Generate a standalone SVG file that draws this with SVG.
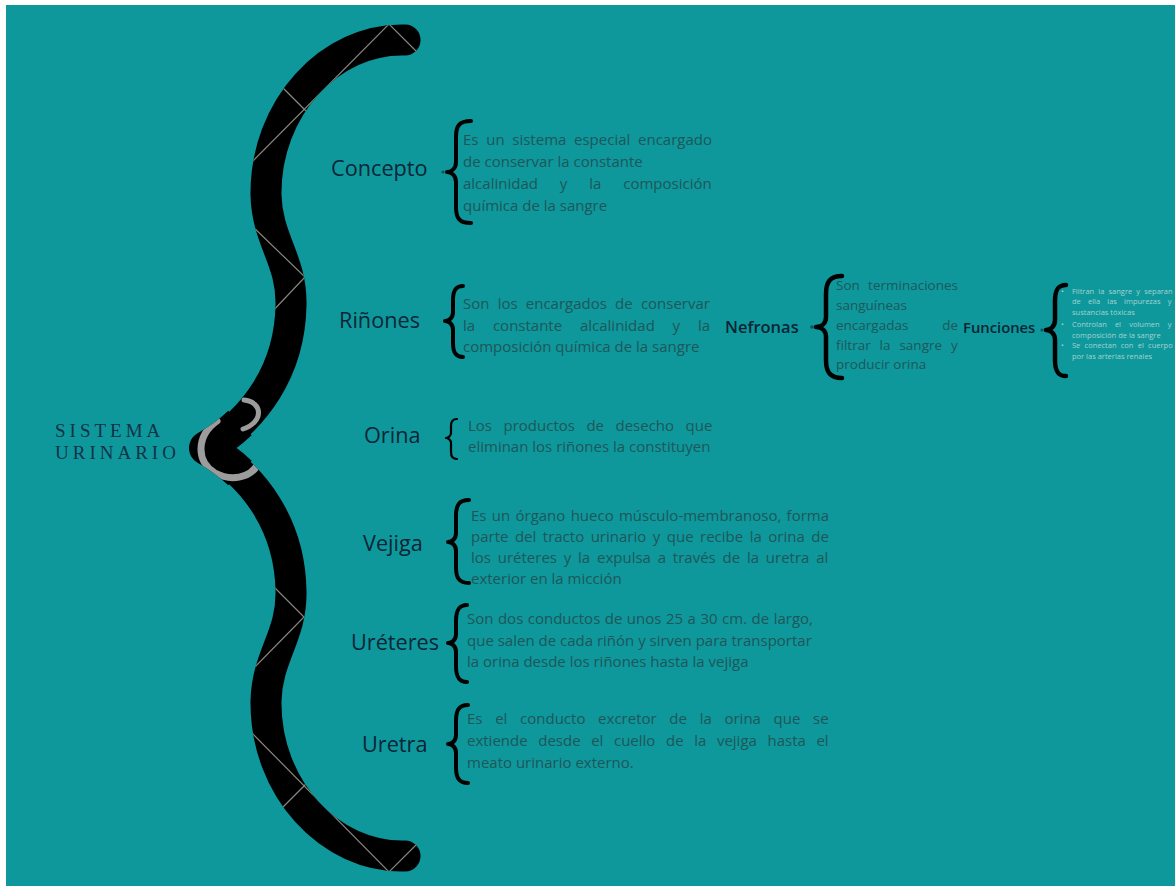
<svg xmlns="http://www.w3.org/2000/svg" width="1175" height="886" viewBox="0 0 1175 886">
<style>
.lbl{font-family:"Open Sans","Liberation Sans",sans-serif;font-size:21.7px;fill:#0a2536;}
.lbl2{font-family:"Open Sans","Liberation Sans",sans-serif;font-weight:600;fill:#0a2536;}
.desc{font-family:"Open Sans","Liberation Sans",sans-serif;font-size:15px;fill:#1f5659;}
.nef{font-family:"Open Sans","Liberation Sans",sans-serif;font-size:13.5px;fill:#1f5659;}
.fun{font-family:"Open Sans","Liberation Sans",sans-serif;font-size:7.5px;fill:#a3d2cf;}
.title{font-family:"Liberation Serif","DejaVu Serif",serif;font-size:19px;fill:#123247;letter-spacing:4px;}
.brace{fill:none;stroke:#000;stroke-width:4;stroke-linecap:round;stroke-linejoin:round;}
.fold{fill:none;stroke:#8a8580;stroke-width:1.2;}
.twist{fill:none;stroke:#9c9c9c;stroke-linecap:round;}
.big{fill:none;stroke-linecap:round;stroke-linejoin:round;}
.tip{fill:none;stroke-linecap:butt;stroke-linejoin:round;}
</style>
<defs>
<path id="bigBrace" d="M 405 40 C 330 38 265 108 266 195 C 267 240 292 260 291 305 C 290 370 255 420 206 448 C 255 476 290 526 291 591 C 292 636 267 656 266 701 C 265 788 330 858 405 856"/>
<path id="tipBrace" d="M 240 423 Q 225.2 437 206 448 Q 225.2 459 240 473"/>
<mask id="braceMask" maskUnits="userSpaceOnUse" x="0" y="0" width="1175" height="886">
<use href="#bigBrace" class="big" stroke="#fff" stroke-width="31"/>
<use href="#tipBrace" class="tip" stroke="#fff" stroke-width="34"/>
</mask>
</defs>
<rect x="0" y="0" width="1175" height="886" fill="#ffffff"/>
<rect x="6" y="5" width="1169" height="881" fill="#0e989c"/>

<g id="sistema-urinario">
<use href="#bigBrace" class="big" stroke="#000" stroke-width="31"/>
<use href="#tipBrace" class="tip" stroke="#000" stroke-width="34"/>
<g mask="url(#braceMask)">
<path class="fold" d="M 250 164 L 389 24 L 421 56"/>
<path class="fold" d="M 276 81 L 308 113"/>
<path class="fold" d="M 252 226 L 305 277 L 270 314"/>
<path class="fold" d="M 270 583 L 304 617 L 253 669"/>
<path class="fold" d="M 250 731 L 389 872 L 421 840"/>
<path class="fold" d="M 308 782 L 276 814"/>
<path class="twist" stroke-width="5" d="M 244 400 C 263 402 264 422 243 429"/>
<path class="twist" stroke-width="7" d="M 217 421 C 196 436 196 462 215 473 C 230 481 250 479 258 464"/>
</g>
<text class="title" x="55" y="437">SISTEMA</text>
<text class="title" x="55" y="459">URINARIO</text>
</g>

<g id="connectors">
<path class="brace" d="M 471 121 C 459 121 456 126 456 137 L 456 162 C 456 169 451 172 447 172 C 451 172 456 175 456 182 L 456 207 C 456 218 459 223 471 223"/>
<path class="brace" d="M 463 286 C 456 286 453 290 453 300 L 453 312 C 453 318 449 321 445 321 C 449 321 453 324 453 330 L 453 343 C 453 353 456 357 463 357"/>
<path class="brace" style="stroke-width:2.2" d="M 457 419 C 453 419 451 421 451 426 L 451 433 C 451 436 448 438 446 438 C 448 438 451 440 451 443 L 451 452 C 451 457 453 459 457 459"/>
<path class="brace" d="M 469 500 C 459 500 456 505 456 516 L 456 533 C 456 539 452 542 448 542 C 452 542 456 545 456 551 L 456 567 C 456 578 459 583 469 583"/>
<path class="brace" d="M 467 605 C 459 605 456 610 456 621 L 456 634 C 456 640 452 643 448 643 C 452 643 456 646 456 652 L 456 666 C 456 677 459 682 467 682"/>
<path class="brace" d="M 468 705 C 459 705 456 710 456 721 L 456 735 C 456 741 452 744 448 744 C 452 744 456 747 456 753 L 456 767 C 456 778 459 783 468 783"/>
<path class="brace" style="stroke-width:4.5" d="M 842 276 C 830 276 826 282 826 294 L 826 317 C 826 324 821 327 816 327 C 821 327 826 330 826 337 L 826 360 C 826 372 830 378 842 378"/>
<path class="brace" style="stroke-width:4.5" d="M 1066 285 C 1058 285 1055 290 1055 301 L 1055 320 C 1055 327 1050 330 1046 330 C 1050 330 1055 333 1055 340 L 1055 360 C 1055 371 1058 376 1066 376"/>
<circle cx="443" cy="172" r="1.6" fill="#0a2536" opacity="0.6"/>
<circle cx="812" cy="327" r="1.8" fill="#0a2536" opacity="0.6"/>
<circle cx="1042" cy="330" r="1.6" fill="#0a2536" opacity="0.6"/>
</g>

<g id="concepto">
<text class="lbl" x="331" y="176">Concepto</text>
<text class="desc" x="463" y="145" style="word-spacing:3.8px">Es un sistema especial encargado</text>
<text class="desc" x="463" y="167">de conservar la constante</text>
<text class="desc" x="463" y="189" style="word-spacing:18px">alcalinidad y la composición</text>
<text class="desc" x="463" y="211">química de la sangre</text>
</g>

<g id="rinones">
<text class="lbl" x="339" y="328">Riñones</text>
<text class="desc" x="463" y="309" style="word-spacing:4.3px">Son los encargados de conservar</text>
<text class="desc" x="463" y="331" style="word-spacing:13.9px">la constante alcalinidad y la</text>
<text class="desc" x="463" y="352">composición química de la sangre</text>
</g>

<g id="nefronas">
<text class="lbl2" x="725" y="333" style="font-size:16.5px">Nefronas</text>
<text class="nef" x="836" y="290" style="word-spacing:4.8px">Son terminaciones</text>
<text class="nef" x="836" y="310">sanguíneas</text>
<text class="nef" x="836" y="330">encargadas</text>
<text class="nef" x="958" y="330" text-anchor="end">de</text>
<text class="nef" x="836" y="350" style="word-spacing:5.4px">filtrar la sangre y</text>
<text class="nef" x="836" y="369">producir orina</text>
</g>

<g id="funciones">
<text class="lbl2" x="963" y="333" style="font-size:14.8px">Funciones</text>
<text class="fun" x="1061" y="294">•</text>
<text class="fun" x="1061" y="326.5">•</text>
<text class="fun" x="1061" y="348">•</text>
<text class="fun" x="1072" y="294" style="word-spacing:2.2px">Filtran la sangre y separan</text>
<text class="fun" x="1072" y="304" style="word-spacing:5.2px">de ella las impurezas y</text>
<text class="fun" x="1072" y="314.5">sustancias tóxicas</text>
<text class="fun" x="1072" y="326.5" style="word-spacing:6.2px">Controlan el volumen y</text>
<text class="fun" x="1072" y="337.5">composición de la sangre</text>
<text class="fun" x="1072" y="348" style="word-spacing:2.3px">Se conectan con el cuerpo</text>
<text class="fun" x="1072" y="358.5">por las arterias renales</text>
</g>

<g id="orina">
<text class="lbl" x="364" y="443">Orina</text>
<text class="desc" x="468" y="431" style="word-spacing:7.6px">Los productos de desecho que</text>
<text class="desc" x="468" y="452">eliminan los riñones la constituyen</text>
</g>

<g id="vejiga">
<text class="lbl" x="363" y="551">Vejiga</text>
<text class="desc" x="471" y="521" style="word-spacing:1.4px">Es un órgano hueco músculo-membranoso, forma</text>
<text class="desc" x="471" y="542" style="word-spacing:2.6px">parte del tracto urinario y que recibe la orina de</text>
<text class="desc" x="471" y="563" style="word-spacing:2.9px">los uréteres y la expulsa a través de la uretra al</text>
<text class="desc" x="471" y="584">exterior en la micción</text>
</g>

<g id="ureteres">
<text class="lbl" x="351" y="650">Uréteres</text>
<text class="desc" x="467" y="624" style="word-spacing:0.6px">Son dos conductos de unos 25 a 30 cm. de largo,</text>
<text class="desc" x="467" y="645.5">que salen de cada riñón y sirven para transportar</text>
<text class="desc" x="467" y="667">la orina desde los riñones hasta la vejiga</text>
</g>

<g id="uretra">
<text class="lbl" x="362" y="752">Uretra</text>
<text class="desc" x="467" y="724" style="word-spacing:8.8px">Es el conducto excretor de la orina que se</text>
<text class="desc" x="467" y="746" style="word-spacing:6.7px">extiende desde el cuello de la vejiga hasta el</text>
<text class="desc" x="467" y="768">meato urinario externo.</text>
</g>
</svg>
